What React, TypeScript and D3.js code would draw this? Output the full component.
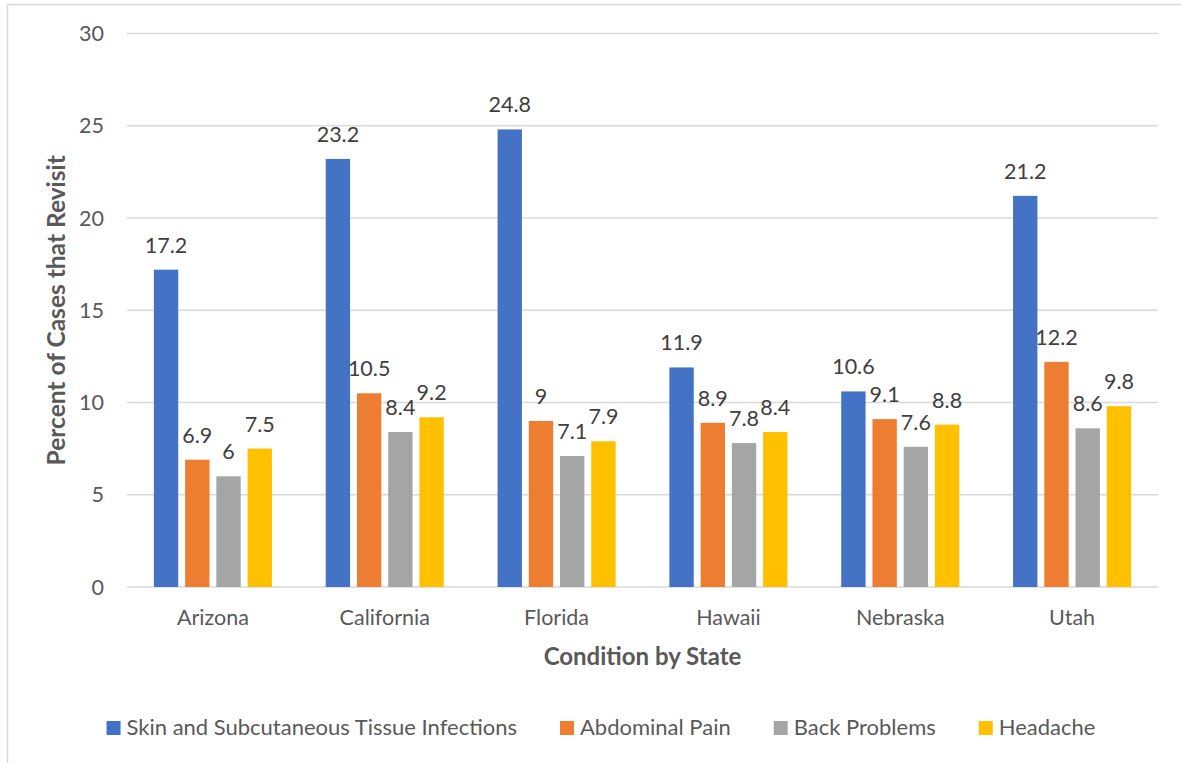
import React, { useEffect, useRef } from "react";
import * as d3 from "d3";

const states = ["Arizona", "California", "Florida", "Hawaii", "Nebraska", "Utah"];
const seriesNames = [
  "Skin and Subcutaneous Tissue Infections",
  "Abdominal Pain",
  "Back Problems",
  "Headache",
];
const skinInfections = [17.2, 23.2, 24.8, 11.9, 10.6, 21.2];
const abdominalPain = [6.9, 10.5, 9, 8.9, 9.1, 12.2];
const backProblems = [6, 8.4, 7.1, 7.8, 7.6, 8.6];
const headache = [7.5, 9.2, 7.9, 8.4, 8.8, 9.8];
const yTicks = [0, 5, 10, 15, 20, 25, 30];

const colors = ["#4472C4", "#ED7D31", "#A5A5A5", "#FFC000"];
const FONT = "Lato, 'Open Sans', sans-serif";

export default function App() {
  const svgRef = useRef<SVGSVGElement>(null);

  useEffect(() => {
    const width = 1181;
    const height = 763;
    const margin = { top: 33.5, right: 23, bottom: 176, left: 127 };
    const svg = d3.select(svgRef.current);
    svg.selectAll("*").remove();

    // chart frame
    svg
      .append("rect")
      .attr("x", 7.5)
      .attr("y", 4.5)
      .attr("width", width + 10)
      .attr("height", height + 10)
      .attr("fill", "#fff")
      .attr("stroke", "#d9d9d9")
      .attr("stroke-width", 1.5);

    const innerW = width - margin.left - margin.right;
    const innerH = height - margin.top - margin.bottom;
    const g = svg.append("g").attr("transform", `translate(${margin.left},${margin.top})`);

    const x0 = d3.scaleBand().domain(states).range([0, innerW]).padding(0);
    const groupW = x0.bandwidth() * 0.687;
    const x1 = d3
      .scaleBand()
      .domain(seriesNames)
      .range([(x0.bandwidth() - groupW) / 2, (x0.bandwidth() + groupW) / 2])
      .paddingInner(0.22);
    const y = d3.scaleLinear().domain([0, 30]).range([innerH, 0]);

    // gridlines
    g.selectAll(".grid")
      .data(yTicks)
      .join("line")
      .attr("x1", 0)
      .attr("x2", innerW)
      .attr("y1", (d) => y(d))
      .attr("y2", (d) => y(d))
      .attr("stroke", "#d9d9d9")
      .attr("stroke-width", 1.3);

    // y tick labels
    g.selectAll(".ytick")
      .data(yTicks)
      .join("text")
      .attr("x", -23)
      .attr("y", (d) => y(d))
      .attr("dy", "0.35em")
      .attr("text-anchor", "end")
      .attr("font-family", FONT)
      .attr("font-size", 21.5)
      .attr("fill", "#595959")
      .text((d) => d);

    const allSeries = [skinInfections, abdominalPain, backProblems, headache];
    const rows = states.map((s, i) => ({
      state: s,
      values: seriesNames.map((name, k) => ({ name, k, v: allSeries[k][i] })),
    }));

    const groups = g
      .selectAll(".state")
      .data(rows)
      .join("g")
      .attr("transform", (d) => `translate(${x0(d.state)},0)`);

    groups
      .selectAll("rect")
      .data((d) => d.values)
      .join("rect")
      .attr("x", (d) => x1(d.name)!)
      .attr("width", x1.bandwidth())
      .attr("y", (d) => y(d.v))
      .attr("height", (d) => y(0) - y(d.v))
      .attr("fill", (d) => colors[d.k]);

    groups
      .selectAll(".lbl")
      .data((d) => d.values)
      .join("text")
      .attr("x", (d) => x1(d.name)! + x1.bandwidth() / 2)
      .attr("y", (d) => y(d.v) - 17)
      .attr("text-anchor", "middle")
      .attr("font-family", FONT)
      .attr("font-size", 21.5)
      .attr("fill", "#404040")
      .text((d) => String(d.v));

    // category labels
    g.selectAll(".xtick")
      .data(states)
      .join("text")
      .attr("x", (d) => x0(d)! + x0.bandwidth() / 2)
      .attr("y", innerH + 38)
      .attr("text-anchor", "middle")
      .attr("font-family", FONT)
      .attr("font-size", 21.5)
      .attr("fill", "#595959")
      .text((d) => d);

    // axis titles
    g.append("text")
      .attr("x", innerW / 2)
      .attr("y", innerH + 78)
      .attr("text-anchor", "middle")
      .attr("font-family", FONT)
      .attr("font-size", 24)
      .attr("font-weight", "bold")
      .attr("fill", "#595959")
      .text("Condition by State");

    g.append("text")
      .attr("transform", `translate(${-62},${innerH / 2}) rotate(-90)`)
      .attr("text-anchor", "middle")
      .attr("font-family", FONT)
      .attr("font-size", 24.5)
      .attr("font-weight", "bold")
      .attr("fill", "#595959")
      .text("Percent of Cases that Revisit");

    // legend
    const legend = svg.append("g");
    const items = legend
      .selectAll("g")
      .data(seriesNames)
      .join("g");
    items
      .append("rect")
      .attr("width", 14)
      .attr("height", 14)
      .attr("y", -14)
      .attr("fill", (d, i) => colors[i]);
    items
      .append("text")
      .attr("x", 20)
      .attr("font-family", FONT)
      .attr("font-size", 22)
      .attr("fill", "#595959")
      .text((d) => d);

    let cursor = 0;
    const offsets: number[] = [];
    items.each(function () {
      offsets.push(cursor);
      const t = d3.select(this).select("text").node() as SVGTextElement;
      cursor += 20 + t.getComputedTextLength() + 43;
    });
    const total = cursor - 43;
    items.attr("transform", (d, i) => `translate(${offsets[i]},0)`);
    legend.attr("transform", `translate(${601 - total / 2},735)`);
  }, []);

  return (
    <svg
      ref={svgRef}
      width={1181}
      height={763}
      style={{ position: "absolute", left: 0, top: 0, display: "block" }}
    />
  );
}
